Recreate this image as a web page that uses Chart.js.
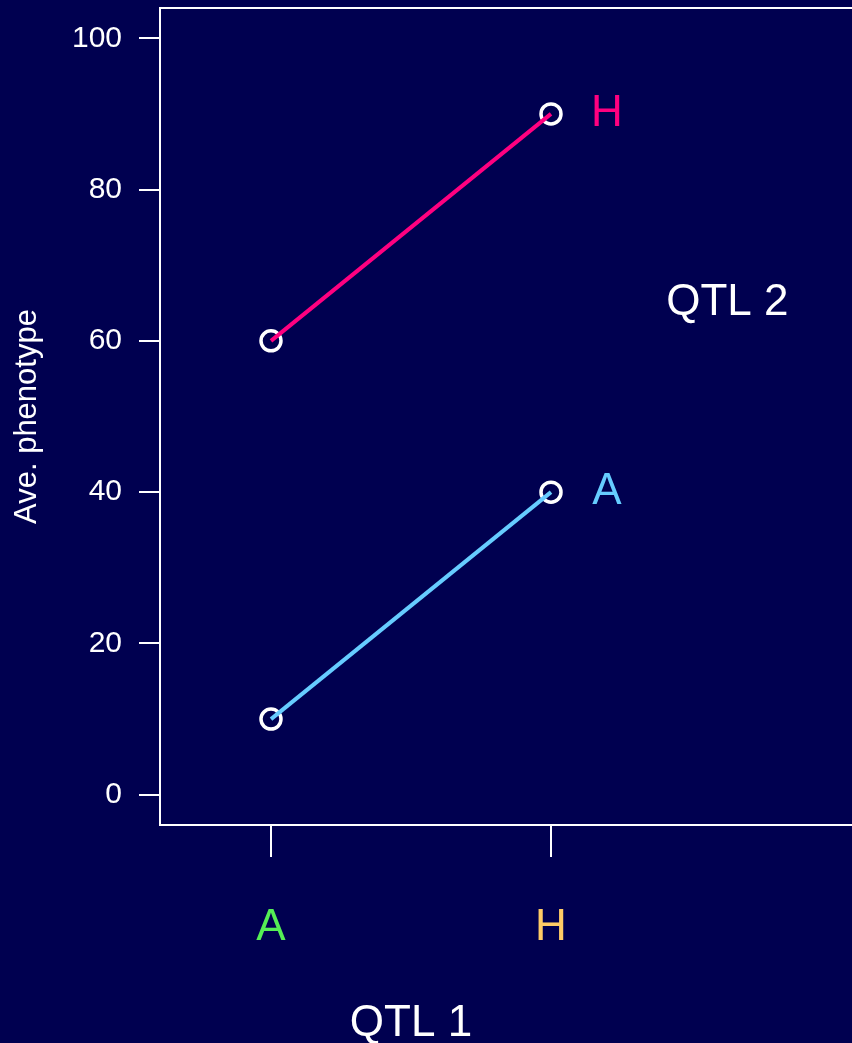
<!DOCTYPE html>
<html>
<head>
<meta charset="utf-8">
<script src="https://cdn.jsdelivr.net/npm/chart.js@4/dist/chart.umd.min.js"></script>
<style>
  html, body { margin: 0; padding: 0; background: #000050; }
  canvas { display: block; }
</style>
</head>
<body>
<canvas id="chart" width="852" height="1043"></canvas>
<script>
// QTL 1 genotypes along the x axis
const qtl1Labels = ["A", "H"];
const qtl1Values = [1, 2];
const qtl1Colors = ["#55ee55", "#ffcc66"];

// average phenotype per QTL 2 genotype
const qtl2A = [10, 40];
const qtl2H = [60, 90];

const yTicks = [0, 20, 40, 60, 80, 100];

const BG = "#000050";
const FONT = "'Liberation Sans', Arial, sans-serif";

const toPoints = (vals) => vals.map((v, i) => ({ x: qtl1Values[i], y: v }));

// background, box and text annotations
const decor = {
    id: "decor",
    beforeDraw(chart) {
        const c = chart.ctx;
        c.save();
        c.fillStyle = BG;
        c.fillRect(0, 0, chart.width, chart.height);
        c.restore();
    },
    afterDraw(chart) {
        const c = chart.ctx;
        const a = chart.chartArea;
        const xs = chart.scales.x;
        const ys = chart.scales.y;
        c.save();
        c.strokeStyle = "#ffffff";
        c.lineWidth = 2;
        c.beginPath();
        c.moveTo(chart.width, a.top);
        c.lineTo(a.left, a.top);
        c.lineTo(a.left, a.bottom);
        c.lineTo(chart.width, a.bottom);
        c.stroke();

        c.font = "44px " + FONT;
        c.textAlign = "center";
        c.textBaseline = "middle";
        c.fillStyle = "#ff0080";
        c.fillText("H", xs.getPixelForValue(2.2), ys.getPixelForValue(qtl2H[1]));
        c.fillStyle = "#66ccff";
        c.fillText("A", xs.getPixelForValue(2.2), ys.getPixelForValue(qtl2A[1]));
        c.fillStyle = "#ffffff";
        c.fillText("QTL 2", xs.getPixelForValue(2.63), ys.getPixelForValue(65));
        c.fillText("QTL 1", xs.getPixelForValue(1.5), 1024);
        c.restore();
    }
};

const noPad = (s) => {
    s.paddingTop = 0;
    s.paddingBottom = 0;
    s.paddingLeft = 0;
    s.paddingRight = 0;
};

new Chart(document.getElementById("chart"), {
    type: "scatter",
    data: {
        datasets: [
            {
                label: "A",
                data: toPoints(qtl2A),
                showLine: true,
                borderColor: "#66ccff",
                borderWidth: 4,
                pointRadius: 0,
                order: 0
            },
            {
                label: "H",
                data: toPoints(qtl2H),
                showLine: true,
                borderColor: "#ff0080",
                borderWidth: 4,
                pointRadius: 0,
                order: 0
            },
            {
                label: "A pts",
                data: toPoints(qtl2A),
                showLine: false,
                pointRadius: 10,
                pointBorderWidth: 3.5,
                pointBorderColor: "#ffffff",
                pointBackgroundColor: "rgba(0,0,0,0)",
                order: 1
            },
            {
                label: "H pts",
                data: toPoints(qtl2H),
                showLine: false,
                pointRadius: 10,
                pointBorderWidth: 3.5,
                pointBorderColor: "#ffffff",
                pointBackgroundColor: "rgba(0,0,0,0)",
                order: 1
            }
        ]
    },
    options: {
        responsive: false,
        animation: false,
        devicePixelRatio: 1,
        layout: { autoPadding: false, padding: { top: 8, right: 0, left: 0, bottom: 0 } },
        plugins: {
            legend: { display: false },
            tooltip: { enabled: false }
        },
        scales: {
            x: {
                type: "linear",
                position: "bottom",
                min: 0.6036,
                max: 3.075,
                afterBuildTicks: (s) => { s.ticks = qtl1Values.map((v) => ({ value: v })); },
                afterFit: (s) => { s.height = 218; noPad(s); },
                border: { display: false },
                grid: { drawOnChartArea: false, tickLength: 32, color: "#ffffff", lineWidth: 2 },
                ticks: {
                    callback: (v, i) => qtl1Labels[i],
                    color: (ctx) => qtl1Colors[ctx.index],
                    font: { family: FONT, size: 44 },
                    padding: 44,
                    maxRotation: 0
                }
            },
            y: {
                min: -4,
                max: 104,
                afterBuildTicks: (s) => { s.ticks = yTicks.map((v) => ({ value: v })); },
                afterFit: (s) => { s.width = 160; noPad(s); },
                border: { display: false },
                grid: { drawOnChartArea: false, tickLength: 21, color: "#ffffff", lineWidth: 2 },
                ticks: {
                    color: "#ffffff",
                    font: { family: FONT, size: 30 },
                    padding: 17
                },
                title: {
                    display: true,
                    text: "Ave. phenotype",
                    color: "#ffffff",
                    font: { family: FONT, size: 31 },
                    padding: { top: 9, bottom: 0 }
                }
            }
        }
    },
    plugins: [decor]
});
</script>
</body>
</html>
